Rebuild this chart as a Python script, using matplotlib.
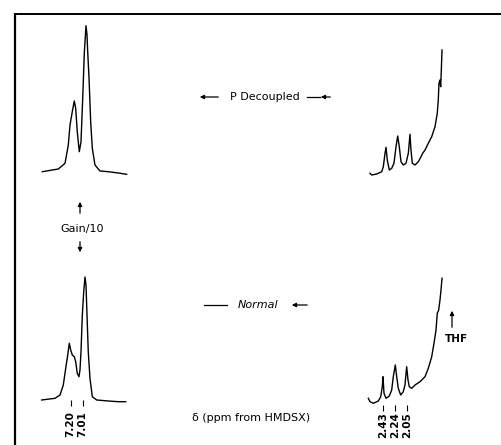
import matplotlib
matplotlib.use("Agg")
import matplotlib.pyplot as plt

W, H, DPI = 502, 445, 100

# ---------------- data ----------------
# aromatic region, P decoupled (ppm, relative intensity)
arom_dec_ppm = [7.649, 7.396, 7.290, 7.238, 7.211, 7.175, 7.143, 7.121, 7.096, 7.064,
                7.037, 7.010, 6.985, 6.958, 6.942, 6.931, 6.910, 6.884, 6.858, 6.816,
                6.736, 6.605, 6.447, 6.314]
arom_dec_int = [3.3, 6.0, 11.7, 30.0, 50.0, 63.3, 74.0, 66.7, 43.3, 23.3,
                33.3, 76.7, 121.7, 149.3, 140.0, 123.3, 96.7, 53.3, 26.7, 10.0,
                4.0, 3.3, 2.0, 0.7]
# aromatic region, normal
arom_norm_ppm = [7.659, 7.448, 7.369, 7.317, 7.279, 7.247, 7.222, 7.200, 7.175, 7.143,
                 7.121, 7.096, 7.069, 7.053, 7.037, 7.016, 6.994, 6.974, 6.958, 6.942,
                 6.922, 6.895, 6.858, 6.789, 6.605, 6.447, 6.330]
arom_norm_int = [3.0, 4.7, 8.0, 18.0, 34.7, 48.0, 59.7, 53.0, 48.0, 46.3,
                 41.3, 29.7, 26.3, 33.0, 51.3, 88.0, 111.3, 126.0, 118.0, 88.0,
                 51.3, 24.7, 6.3, 3.0, 2.0, 1.3, 1.3]
# aliphatic region, P decoupled
aliph_dec_ppm = [2.640, 2.614, 2.534, 2.455, 2.430, 2.403, 2.387, 2.367, 2.335, 2.297,
                 2.261, 2.229, 2.202, 2.177, 2.150, 2.114, 2.071, 2.034, 2.008, 1.992,
                 1.971, 1.928, 1.876, 1.833, 1.807, 1.770, 1.718, 1.664, 1.612, 1.576,
                 1.560, 1.549, 1.533, 1.522, 1.512, 1.501]
aliph_dec_int = [1.7, 0.0, 1.0, 3.3, 8.3, 21.7, 27.7, 15.0, 5.0, 6.7,
                 11.7, 28.3, 39.0, 28.3, 13.3, 10.0, 11.7, 21.7, 40.7, 25.0,
                 11.7, 10.0, 13.3, 18.3, 21.7, 25.0, 31.7, 38.3, 48.3, 61.7,
                 75.0, 91.7, 95.0, 88.3, 105.0, 125.0]
# aliphatic region, normal
aliph_norm_ppm = [2.667, 2.640, 2.588, 2.509, 2.471, 2.446, 2.435, 2.419, 2.387, 2.335,
                  2.297, 2.272, 2.240, 2.218, 2.193, 2.155, 2.114, 2.087, 2.060, 2.039,
                  2.019, 1.981, 1.928, 1.849, 1.770, 1.718, 1.664, 1.628, 1.596, 1.576,
                  1.554, 1.533, 1.517, 1.501]
aliph_norm_int = [4.7, 1.3, -0.3, 2.0, 6.3, 16.3, 26.3, 9.7, 4.7, 7.0,
                  13.0, 26.3, 38.0, 26.3, 14.7, 8.0, 11.3, 18.0, 36.3, 23.0,
                  16.3, 14.7, 18.0, 21.3, 26.3, 34.7, 46.3, 59.7, 73.0, 89.7,
                  93.0, 103.0, 113.0, 124.7]

arom_tick_ppm = [7.20, 7.01]
arom_tick_labels = ["7.20", "7.01"]
aliph_tick_ppm = [2.43, 2.24, 2.05]
aliph_tick_labels = ["2.43", "2.24", "2.05"]
thf_ppm = 1.343

# ---------------- layout ----------------
PX_PER_PPM = 63.2
fig = plt.figure(figsize=(W / DPI, H / DPI), dpi=DPI)
fig.patch.set_facecolor("white")


def make_ax(px_left, px_right, px_top, px_bottom, ppm_ref, px_ref_x, px_ref_y):
    ax = fig.add_axes([px_left / W, 1 - px_bottom / H,
                       (px_right - px_left) / W, (px_bottom - px_top) / H])
    ax.set_xlim(ppm_ref + (px_ref_x - px_left) / PX_PER_PPM,
                ppm_ref - (px_right - px_ref_x) / PX_PER_PPM)
    ax.set_ylim(px_ref_y - px_bottom, px_ref_y - px_top)
    ax.axis("off")
    return ax


ax_tl = make_ax(25, 145, 15, 190, 7.20, 70.7, 175)
ax_bl = make_ax(25, 145, 260, 445, 7.20, 70.7, 403)
ax_tr = make_ax(355, 480, 15, 190, 2.43, 383.3, 175)
ax_br = make_ax(355, 480, 260, 445, 2.43, 383.3, 403)

LW = 1.0
ax_tl.plot(arom_dec_ppm, arom_dec_int, color="black", lw=LW, solid_joinstyle="round")
ax_bl.plot(arom_norm_ppm, arom_norm_int, color="black", lw=LW, solid_joinstyle="round")
ax_tr.plot(aliph_dec_ppm, aliph_dec_int, color="black", lw=LW, solid_joinstyle="round")
ax_br.plot(aliph_norm_ppm, aliph_norm_int, color="black", lw=LW, solid_joinstyle="round")

FONT = dict(family="DejaVu Sans", color="black")
TS = 7.5
LS = 8

# shift marks and labels
ax_bl.vlines(arom_tick_ppm, -3, 3, color="black", lw=0.8)
for p, lab in zip(arom_tick_ppm, arom_tick_labels):
    ax_bl.text(p, -21, lab, rotation=90, ha="center", va="center", fontsize=TS,
               fontweight="bold", **FONT)
ax_br.vlines(aliph_tick_ppm, -8, -2, color="black", lw=0.8)
for p, lab in zip(aliph_tick_ppm, aliph_tick_labels):
    ax_br.text(p, -22, lab, rotation=90, ha="center", va="center", fontsize=TS,
               fontweight="bold", **FONT)

# THF marker
ax_br.annotate("", xy=(thf_ppm, 95), xytext=(thf_ppm, 73),
               arrowprops=dict(arrowstyle="-|>", color="black", lw=0.9,
                               mutation_scale=6))

# ---------------- overlay (frame & annotations, pixel units) ----------------
ov = fig.add_axes([0, 0, 1, 1], zorder=-1)
ov.set_xlim(0, W)
ov.set_ylim(H, 0)
ov.axis("off")

ov.plot([15, 502], [13.5, 13.5], color="black", lw=1.4, solid_capstyle="butt")
ov.plot([15, 15], [12.8, 445], color="black", lw=1.6, solid_capstyle="butt")

ov.text(456, 339, "THF", ha="center", va="center", fontsize=TS, fontweight="bold", **FONT)

arrow_kw = dict(arrowstyle="-|>", color="black", lw=0.9, mutation_scale=6)

# P Decoupled
ov.text(265, 97, "P Decoupled", ha="center", va="center", fontsize=LS, **FONT)
ov.annotate("", xy=(197, 97), xytext=(221, 97), arrowprops=arrow_kw)
ov.annotate("", xy=(318, 97), xytext=(333, 97), arrowprops=arrow_kw)
ov.plot([307, 320], [97, 97], color="black", lw=0.9)

# Normal
ov.text(258, 305, "Normal", ha="center", va="center", fontsize=LS, style="italic", **FONT)
ov.plot([204, 227], [305, 305], color="black", lw=0.9)
ov.annotate("", xy=(289, 305), xytext=(310, 305), arrowprops=arrow_kw)

# Gain/10
ov.text(82, 229, "Gain/10", ha="center", va="center", fontsize=LS, **FONT)
ov.annotate("", xy=(80, 199), xytext=(80, 216), arrowprops=arrow_kw)
ov.annotate("", xy=(80, 255), xytext=(80, 239), arrowprops=arrow_kw)

# axis caption
ov.text(251, 418, "\u03b4 (ppm from HMDSX)", ha="center", va="center", fontsize=LS, **FONT)

fig.savefig("out.png", dpi=DPI, facecolor="white")
